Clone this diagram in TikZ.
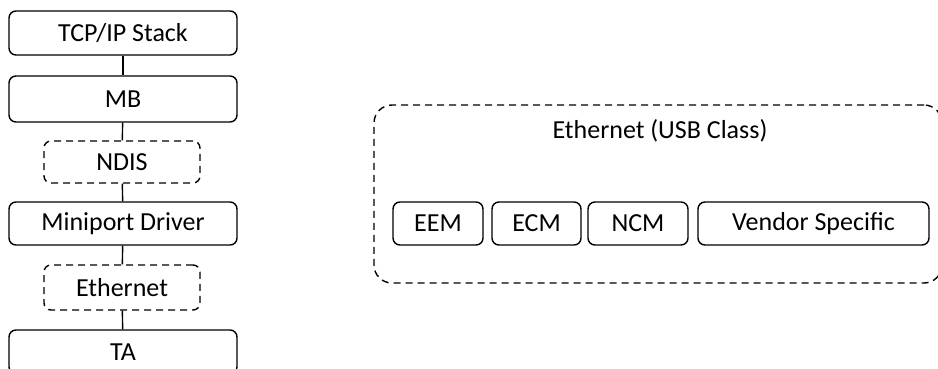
\documentclass[tikz,border=0pt]{standalone}
\usepackage{fontspec}
\setmainfont{Carlito}

\begin{document}
\begin{tikzpicture}[x=1pt, y=-1pt,
    box/.style={draw, line width=1.4pt, rounded corners=7pt, inner sep=0pt,
      font=\fontsize{26}{30}\selectfont},
    dbox/.style={box, dash pattern=on 7pt off 5pt},
    link/.style={line width=1.4pt}]
      \useasboundingbox (0, 0) rectangle (938, 369);

      % Stack
      \node[box, minimum width=228pt, minimum height=44pt] (tcp) at (123, 33) {TCP/IP Stack};
      \node[box, minimum width=228pt, minimum height=46pt] (mb) at (123, 99) {MB};
      \node[dbox, minimum width=156pt, minimum height=42pt] (ndis) at (122, 162) {NDIS};
      \node[box, minimum width=228pt, minimum height=43pt] (mini) at (123, 223.5) {Miniport Driver};
      \node[dbox, minimum width=156pt, minimum height=45pt] (eth) at (122, 287.5) {Ethernet};
      \node[box, minimum width=228pt, minimum height=44pt] (ta) at (123, 352) {TA};

      \draw[link] (tcp) -- (mb);
      \draw[link] (mb) -- (ndis);
      \draw[link] (ndis) -- (mini);
      \draw[link] (mini) -- (eth);
      \draw[link] (eth) -- (ta);

      % USB class
      \node[dbox, minimum width=568pt, minimum height=178pt, rounded corners=18pt] (usb) at (658, 194) {};
      \node[font=\fontsize{26}{30}\selectfont] (usbtitle) at (660, 131) {Ethernet (USB Class)};

      \node[box, minimum width=90pt, minimum height=43pt] (eem) at (438, 223.5) {EEM};
      \node[box, minimum width=89pt, minimum height=43pt] (ecm) at (536.5, 223.5) {ECM};
      \node[box, minimum width=100pt, minimum height=43pt] (ncm) at (638, 223.5) {NCM};
      \node[box, minimum width=231pt, minimum height=43pt] (vendor) at (813.5, 223.5) {Vendor Specific};
\end{tikzpicture}
\end{document}
